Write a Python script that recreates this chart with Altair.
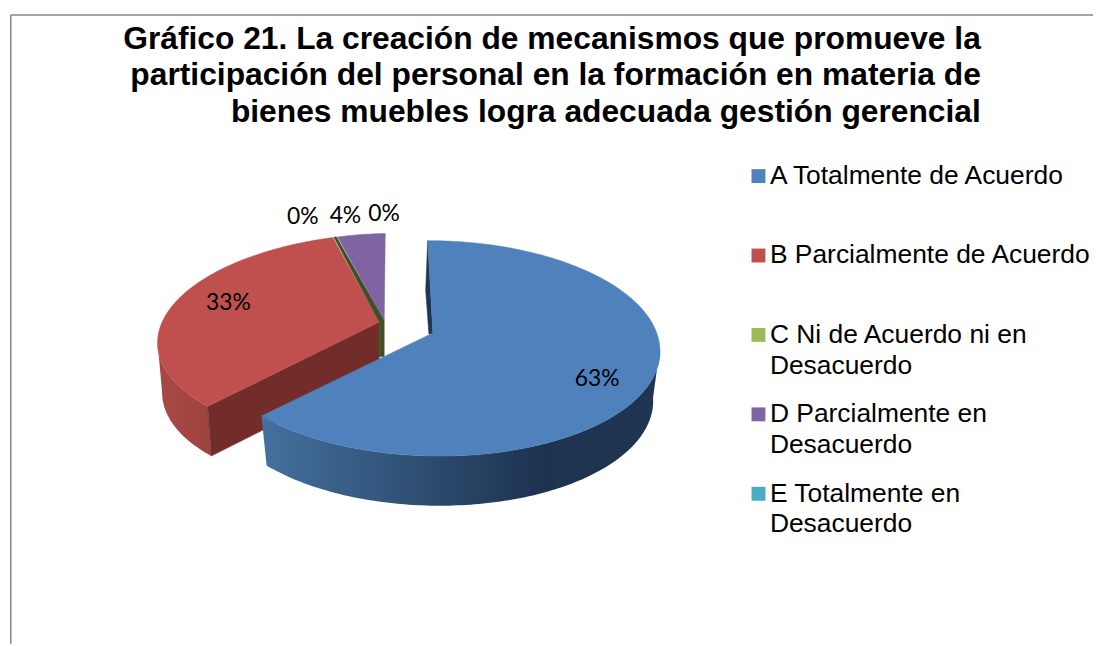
import math
import altair as alt

# ---- data ----
categories = ["A Totalmente de Acuerdo", "B Parcialmente de Acuerdo",
              "C Ni de Acuerdo ni en Desacuerdo", "D Parcialmente en Desacuerdo",
              "E Totalmente en Desacuerdo"]
shares = [62.5, 33.3, 0.0, 4.2, 0.0]
pct_labels = ["63%", "33%", "0%", "4%", "0%"]
legend_lines = [["A Totalmente de Acuerdo"], ["B Parcialmente de Acuerdo"],
                ["C Ni de Acuerdo ni en", "Desacuerdo"],
                ["D Parcialmente en", "Desacuerdo"],
                ["E Totalmente en", "Desacuerdo"]]
colors = ["#4f81bd", "#c0504d", "#9bbb59", "#8064a2", "#4bacc6"]
title_lines = ["Gráfico 21. La creación de mecanismos que promueve la",
               "participación del personal en la formación en materia de",
               "bienes muebles logra adecuada gestión gerencial"]

OX, OY = 8, 8
WALL = 50


def rim(theta, g, low=False):
    t = math.radians(theta)
    X, Z = math.sin(t), -math.cos(t)
    w = 1 - g["k"] * Z
    dx = (g["a"] * X + g["s"] * Z) / w
    dy = (g["b"] * Z + g["t"] * X) / w
    if low:
        return (g["cx"] + dx * g["shrink"], g["cy"] + dy + WALL)
    return (g["cx"] + dx, g["cy"] + dy)


def poly(points, fill):
    ring = [[round(x - OX, 2), round(y - OY, 2)] for x, y in points]
    ring.append(ring[0])
    return {"type": "Feature", "fill": fill,
            "geometry": {"type": "Polygon", "coordinates": [ring]}}


def arc(t0, t1, g, low=False, step=1.0):
    n = max(2, int(abs(t1 - t0) / step))
    return [rim(t0 + (t1 - t0) * i / n, g, low) for i in range(n + 1)]


BLUE = dict(cx=436, cy=333, a=225.5, b=106.3, k=0.143, s=6, t=0, shrink=0.97)
BACK = dict(cx=387, cy=322, a=226, b=102, k=0.143, s=0, t=-6, shrink=0.98)
RED_APEX = (382, 322)
PUR_APEX = (387, 320)

end_a = shares[0] * 3.6
end_b = end_a + shares[1] * 3.6

# faces of the back group (red, green, purple)
corner, corner_low = rim(end_a, BACK), rim(end_a, BACK, True)
rb = rim(end_b + 0.6, BACK)
back_faces = [
    poly([RED_APEX, corner, corner_low, (RED_APEX[0], RED_APEX[1] + WALL)], "#722d2b"),
    poly([RED_APEX] + arc(end_a, end_b, BACK), colors[1]),
    poly([(rb[0] - 1, rb[1]), (rb[0] + 1.5, rb[1] - 0.5), PUR_APEX,
          (PUR_APEX[0], PUR_APEX[1] + 37), (RED_APEX[0], RED_APEX[1] + 35), RED_APEX], "#414f25"),
    poly([PUR_APEX] + arc(end_b + 1.4, 360.3, BACK), colors[3]),
]

# faces of the blue slice
s0 = rim(0, BLUE)
blue_faces = [
    poly([s0, (s0[0] - 2, s0[1] + 50), (BLUE["cx"] - 4, BLUE["cy"] + 1),
          (BLUE["cx"], BLUE["cy"] + 1)], "#1f3552"),
    poly([(BLUE["cx"], BLUE["cy"])] + arc(0, end_a, BLUE), colors[0]),
]

PROJ = dict(type="identity", scale=1, translate=[0, 0])


def wall(t0, t1, g, stops):
    shape = poly(arc(t0, t1, g) + arc(t1, t0, g, True), "#000000")
    grad = alt.Gradient(gradient="linear", x1=0, x2=1, y1=0, y2=0,
                        stops=[alt.GradientStop(offset=o, color=c) for o, c in stops])
    return alt.Chart(alt.Data(values=[shape])).mark_geoshape(fill=grad, strokeWidth=0).project(**PROJ)


def faces(items):
    return alt.Chart(alt.Data(values=items)).mark_geoshape(strokeWidth=0.5).encode(
        fill=alt.Fill("fill:N", scale=None),
        stroke=alt.Stroke("fill:N", scale=None),
    ).project(**PROJ)


red_wall = wall(end_a, 262, BACK, [(0, "#a84945"), (1, "#9e4340")])
blue_wall = wall(98, end_a, BLUE, [(0, "#44719f"), (0.70, "#1d3350"), (1, "#1f3552")])

one = alt.Data(values=[{"k": 1}])


def text(txt, x, y, size, font, align="left", bold=False):
    return alt.Chart(one).mark_text(
        text=txt, font=font, fontSize=size, align=align, baseline="alphabetic",
        fontWeight="bold" if bold else "normal", color="#000000",
    ).encode(x=alt.value(x - OX), y=alt.value(y - OY))


layers = [
    alt.Chart(one).mark_rule(color="#868686", strokeWidth=1.5).encode(
        x=alt.value(2.8), x2=alt.value(1093), y=alt.value(4.8)),
    alt.Chart(one).mark_rule(color="#868686", strokeWidth=1.5).encode(
        x=alt.value(2.8), y=alt.value(4.8), y2=alt.value(638)),
    red_wall, faces(back_faces), blue_wall, faces(blue_faces),
]

for line, yb in zip(title_lines, [47, 83, 120]):
    layers.append(text(line, 988, yb, 32, "Liberation Sans", align="right", bold=True))

for lab, (px, py) in zip(pct_labels, [(579, 386), (207.5, 310), (289, 223), (332, 222), (371, 220)]):
    layers.append(text(lab, px, py, 23, "Lato"))

for i, lines in enumerate(legend_lines):
    yc = 175 + 80 * i
    layers.append(alt.Chart(one).mark_square(size=196, color=colors[i], opacity=1).encode(
        x=alt.value(764 - OX), y=alt.value(yc - OY)))
    for j, ln in enumerate(lines):
        layers.append(text(ln, 775.5, yc + 8 + 31 * j, 26.6, "Liberation Sans"))

chart = alt.layer(*layers).properties(
    width=1093, height=638, padding=0, autosize=alt.AutoSizeParams(type="none"),
    background="#ffffff",
).configure_view(stroke=None)

chart.save("out.html", embed_options={"renderer": "svg", "actions": False})
